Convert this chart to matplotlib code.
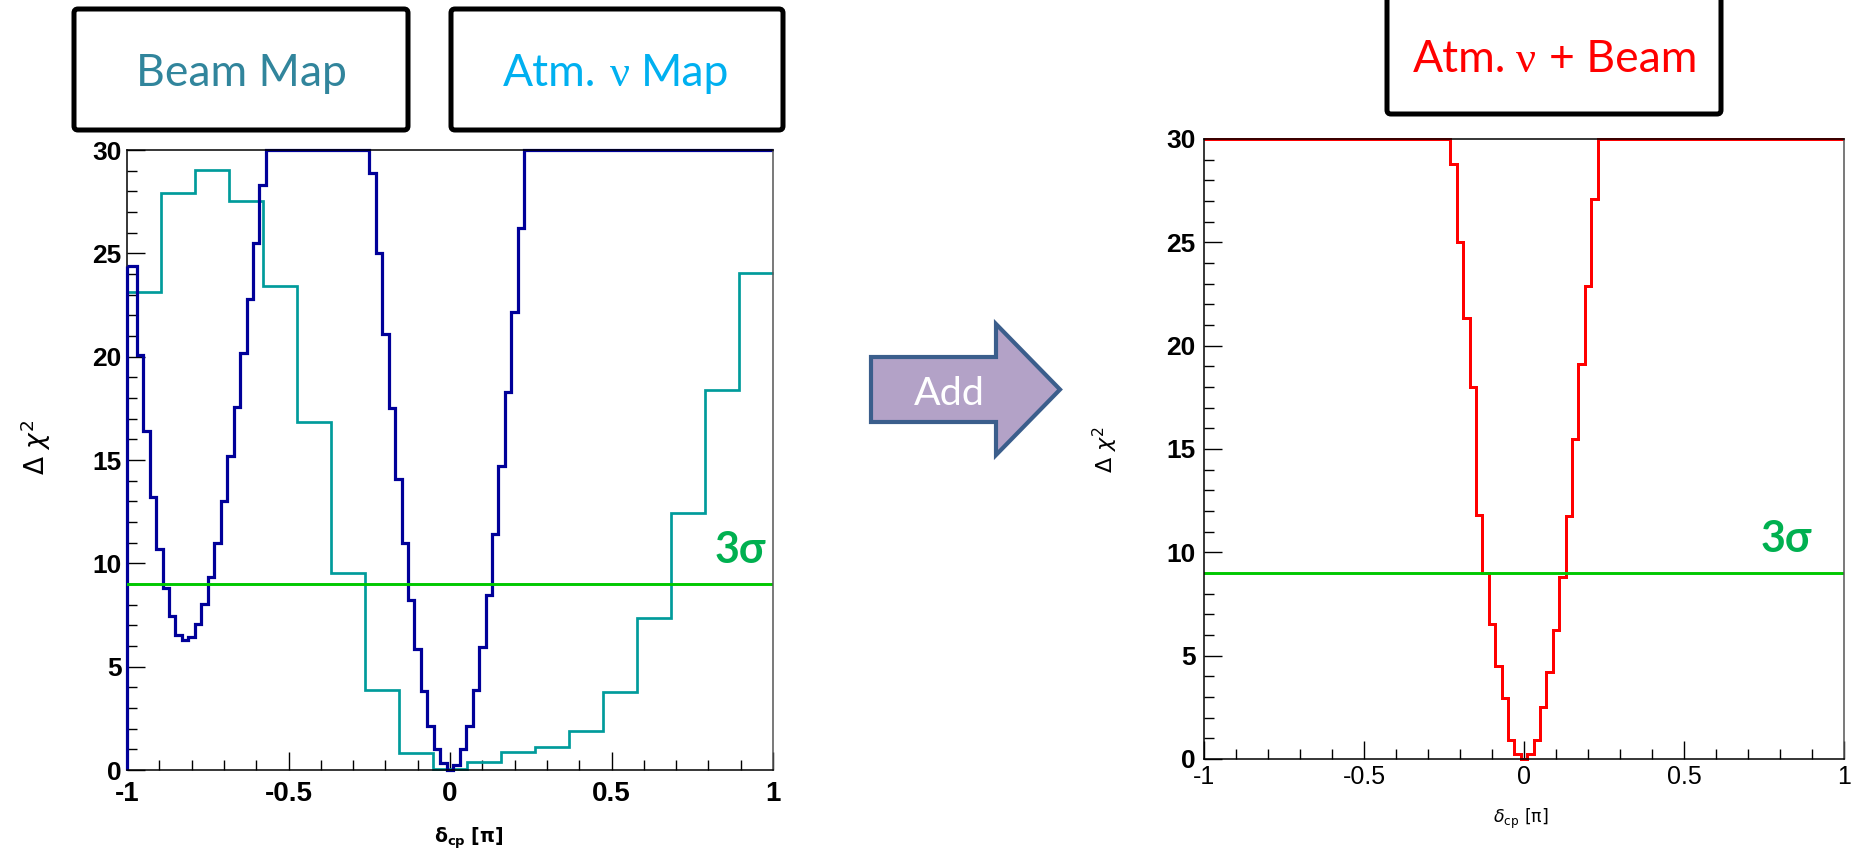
import numpy as np
import matplotlib
matplotlib.use("Agg")
import matplotlib.pyplot as plt
from matplotlib.patches import FancyBboxPatch, Polygon

plt.rcParams["mathtext.fontset"] = "dejavusans"

# ---------------------------------------------------------------- data
# Fine δcp scan (units of π), one point every 0.02 from -1 to 1
delta_fine = np.linspace(-1.0, 1.0, 101)

# Δχ² from the beam-only fit
beam_dchi2 = np.array([
    24.4, 24.4, 20.1, 16.4, 13.2, 10.7, 8.8, 7.45, 6.55, 6.3,
    6.45, 7.05, 8.05, 9.35, 11.0, 13.0, 15.2, 17.55, 20.2, 22.8,
    25.5, 28.3,
    30.0, 30.0, 30.0, 30.0, 30.0, 30.0, 30.0, 30.0,
    30.0, 30.0, 30.0, 30.0, 30.0, 30.0, 30.0, 30.0,
    28.9, 25.0, 21.1, 17.5, 14.1, 11.0, 8.25, 5.85, 3.8, 2.15,
    1.0, 0.35, 0.0, 0.25, 1.0, 2.15, 3.85, 5.95, 8.45, 11.4,
    14.7, 18.3, 22.15, 26.25,
    30.0, 30.0, 30.0, 30.0, 30.0, 30.0, 30.0, 30.0, 30.0, 30.0,
    30.0, 30.0, 30.0, 30.0, 30.0, 30.0, 30.0, 30.0, 30.0, 30.0,
    30.0, 30.0, 30.0, 30.0, 30.0, 30.0, 30.0, 30.0, 30.0, 30.0,
    30.0, 30.0, 30.0, 30.0, 30.0, 30.0, 30.0, 30.0, 30.0,
])

# Δχ² from the combined atmospheric + beam fit
combined_dchi2 = np.array([
    30.0, 30.0, 30.0, 30.0, 30.0, 30.0, 30.0, 30.0, 30.0, 30.0,
    30.0, 30.0, 30.0, 30.0, 30.0, 30.0, 30.0, 30.0, 30.0, 30.0,
    30.0, 30.0, 30.0, 30.0, 30.0, 30.0, 30.0, 30.0, 30.0, 30.0,
    30.0, 30.0, 30.0, 30.0, 30.0, 30.0, 30.0, 30.0, 30.0,
    28.8, 25.0, 21.35, 18.0, 11.8, 9.0, 6.55, 4.5, 2.95, 0.9,
    0.25, 0.0, 0.25, 0.9, 2.5, 4.2, 6.25, 8.8, 11.75, 15.5,
    19.1, 22.9, 27.1,
    30.0, 30.0, 30.0, 30.0, 30.0, 30.0, 30.0, 30.0, 30.0, 30.0,
    30.0, 30.0, 30.0, 30.0, 30.0, 30.0, 30.0, 30.0, 30.0, 30.0,
    30.0, 30.0, 30.0, 30.0, 30.0, 30.0, 30.0, 30.0, 30.0, 30.0,
    30.0, 30.0, 30.0, 30.0, 30.0, 30.0, 30.0, 30.0, 30.0,
])

# Coarse atmospheric-ν scan: 19 equal bins over [-1, 1]
atm_bin_edges = np.linspace(-1.0, 1.0, 20)
atm_dchi2 = np.array([
    23.15, 27.9, 29.05, 27.55, 23.4, 16.86, 9.55, 3.86, 0.81, 0.05,
    0.37, 0.87, 1.12, 1.9, 3.76, 7.34, 12.45, 18.38, 24.03,
])

three_sigma = 9.0

x_ticks = [-1, -0.5, 0, 0.5, 1]
x_ticklabels = ["-1", "-0.5", "0", "0.5", "1"]
y_ticks = [0, 5, 10, 15, 20, 25, 30]
y_ticklabels = ["0", "5", "10", "15", "20", "25", "30"]

# each fine-scan point is the centre of a 0.02-wide bin, clipped to [-1, 1]
fine_edges = np.concatenate([[-1.0], (delta_fine[:-1] + delta_fine[1:]) / 2, [1.0]])

# ---------------------------------------------------------------- style
NAVY = "#000099"
TEAL = "#009b9b"
RED = "#ff0000"
LINE_GREEN = "#00c800"
SIGMA_GREEN = "#00b050"
TICK_FONT = "Liberation Sans"
SLIDE_FONT = "Lato"
GREEK_SANS = ["Lato", "Open Sans", "DejaVu Sans"]
GREEK_SERIF = "Liberation Serif"

W, H = 1860, 850
fig = plt.figure(figsize=(W / 100, H / 100), dpi=100)


def axes_px(x0, y0, x1, y1):
    """Axes placed by pixel box, y measured from the top."""
    return fig.add_axes([x0 / W, 1 - y1 / H, (x1 - x0) / W, (y1 - y0) / H])


def setup_panel(ax, xlab_weight, xlab_size, xpad, ypad):
    ax.set_xlim(-1, 1)
    ax.set_ylim(0, 30)
    ax.set_xticks(x_ticks)
    ax.set_xticklabels(x_ticklabels, family=TICK_FONT, weight=xlab_weight, size=xlab_size)
    ax.set_xticks(np.linspace(-1, 1, 21), minor=True)
    ax.set_yticks(y_ticks)
    ax.set_yticklabels(y_ticklabels, family=TICK_FONT, weight="bold", size=19)
    ax.set_yticks(np.arange(0, 31), minor=True)
    ax.tick_params(which="both", direction="in", top=False, right=False,
                   width=1.0, color="black")
    ax.tick_params(which="major", length=13)
    ax.tick_params(which="minor", length=7)
    ax.tick_params(axis="x", pad=xpad)
    ax.tick_params(axis="y", pad=ypad)
    for s in ax.spines.values():
        s.set_linewidth(1.1)
        s.set_color("black")
        s.set_zorder(6)
    ax.spines["right"].set_color("#555555")


# ---------------------------------------------------------------- left panel
ax1 = axes_px(127, 150, 773, 770)
setup_panel(ax1, "bold", 20, 8, 4)
ax1.spines["left"].set_zorder(1)
ax1.stairs(atm_dchi2, atm_bin_edges, baseline=None, fill=False, edgecolor=TEAL,
           linewidth=1.95, zorder=3, clip_on=False)
ax1.stairs(beam_dchi2, fine_edges, baseline=None, fill=False, edgecolor=NAVY,
           linewidth=2.3, zorder=4, clip_on=False)
# opening edge of the beam histogram, rising from zero at δcp = -1
ax1.vlines(fine_edges[0], 0, beam_dchi2[0], colors=NAVY, linewidth=2.3,
           zorder=4, clip_on=False)
ax1.axhline(three_sigma, color=LINE_GREEN, linewidth=2.1, zorder=5)
ax1.text(0.90, 10.0, "3σ", ha="center", va="baseline", color=SIGMA_GREEN,
         fontsize=31, weight="bold", family=GREEK_SANS)

# ---------------------------------------------------------------- right panel
ax2 = axes_px(1204, 139, 1844, 759)
setup_panel(ax2, "normal", 18, 4, 6)
ax2.stairs(combined_dchi2, fine_edges, baseline=None, fill=False, edgecolor=RED,
           linewidth=2.15, zorder=4, clip_on=False)
ax2.axhline(three_sigma, color=LINE_GREEN, linewidth=2.1, zorder=5)
ax2.text(0.82, 10.0, "3σ", ha="center", va="baseline", color=SIGMA_GREEN,
         fontsize=31, weight="bold", family=GREEK_SANS)

# ---------------------------------------------------------------- overlay (pixel coordinates)
ov = fig.add_axes([0, 0, 1, 1])
ov.set_xlim(0, W)
ov.set_ylim(H, 0)
ov.axis("off")

renderer = fig.canvas.get_renderer()


def draw_runs(xc, y_base, runs, color, size):
    """Lay out text pieces (str, family) and pixel gaps (numbers) centred on xc."""
    items, total = [], 0.0
    for run in runs:
        if isinstance(run, (int, float)):
            items.append((None, run))
            total += run
            continue
        txt, fam = run
        t = ov.text(0, y_base, txt, family=fam, fontsize=size, color=color,
                    ha="left", va="baseline")
        w = t.get_window_extent(renderer=renderer).width
        items.append((t, w))
        total += w
    x = xc - total / 2
    for t, w in items:
        if t is not None:
            t.set_x(x)
        x += w


def slide_box(x0, y0, x1, y1):
    ov.add_patch(FancyBboxPatch((x0, y0), x1 - x0, y1 - y0,
                                boxstyle="round,pad=0,rounding_size=4",
                                facecolor="white", edgecolor="black",
                                linewidth=3.6, clip_on=False))


# labelled boxes above the panels
slide_box(74, 9, 408, 130)
slide_box(451, 9, 783, 130)
slide_box(1387, -20, 1721, 114)

BOX_SIZE = 32
draw_runs(241, 86, [("Beam Map", SLIDE_FONT)], "#31859c", BOX_SIZE)
draw_runs(616, 86, [("Atm.", SLIDE_FONT), 14, ("ν", GREEK_SERIF), 11, ("Map", SLIDE_FONT)],
          "#00b0f0", BOX_SIZE)
draw_runs(1555, 72, [("Atm.", SLIDE_FONT), 9, ("ν", GREEK_SERIF), 13, ("+ Beam", SLIDE_FONT)],
          RED, BOX_SIZE)

# "Add" block arrow between the panels
arrow_pts = [(871, 357), (996, 357), (996, 324), (1060, 389.5),
             (996, 455), (996, 422), (871, 422)]
ov.add_patch(Polygon(arrow_pts, closed=True, facecolor="#b3a2c7",
                     edgecolor="#3b5e8c", linewidth=3.0, joinstyle="miter"))
draw_runs(949, 405, [("Add", SLIDE_FONT)], "white", 28.4)

# axis titles
ov.text(36, 447, r"$\Delta\ \chi^{2}$", rotation=90, ha="center", va="center",
        fontsize=19, color="black")
ov.text(1105, 450, r"$\Delta\ \chi^{2}$", rotation=90, ha="center", va="center",
        fontsize=16, color="black")
ov.text(469, 838, r"$\mathbf{\delta_{cp}\ [\pi]}$", ha="center", va="center",
        fontsize=13.5, color="black")
ov.text(1521, 819, r"$\delta_{\mathrm{cp}}$ [π]", ha="center", va="center",
        fontsize=12.5, color="black")

fig.savefig("out.png", dpi=100)
